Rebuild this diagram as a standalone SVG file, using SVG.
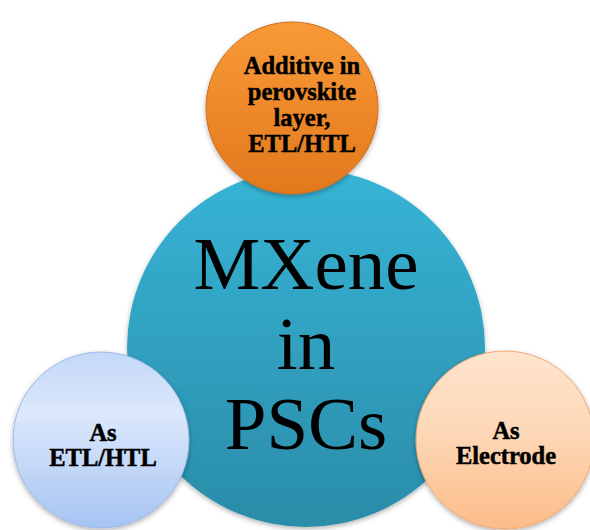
<svg xmlns="http://www.w3.org/2000/svg" width="590" height="530" viewBox="0 0 590 530">
  <defs>
    <linearGradient id="gTeal" x1="0" y1="0" x2="0" y2="1">
      <stop offset="0" stop-color="#37B4D6"/>
      <stop offset="1" stop-color="#2A8CA8"/>
    </linearGradient>
    <linearGradient id="gOrange" x1="0" y1="0" x2="0" y2="1">
      <stop offset="0" stop-color="#F99A37"/>
      <stop offset="1" stop-color="#E2781D"/>
    </linearGradient>
    <linearGradient id="gBlue" x1="0" y1="0" x2="0" y2="1">
      <stop offset="0" stop-color="#C3D8F8"/>
      <stop offset="0.35" stop-color="#DCE8FC"/>
      <stop offset="1" stop-color="#A6C4F2"/>
    </linearGradient>
    <linearGradient id="gPeach" x1="0" y1="0" x2="0" y2="1">
      <stop offset="0" stop-color="#FFE4CD"/>
      <stop offset="0.45" stop-color="#FDD8B7"/>
      <stop offset="1" stop-color="#FCBC88"/>
    </linearGradient>
    <filter id="shadow" x="-10%" y="-10%" width="120%" height="125%">
      <feDropShadow dx="0" dy="2" stdDeviation="2.5" flood-color="#000" flood-opacity="0.3"/>
    </filter>
  </defs>
  <style>
    .label { font-family: "Liberation Serif", "Times New Roman", serif; font-weight: bold; font-size: 24.5px; fill: #000; stroke: #000; stroke-width: 0.5px; text-anchor: middle; }
    .title { font-family: "Liberation Serif", "Times New Roman", serif; font-size: 75px; fill: #000; text-anchor: middle; }
    .node circle { filter: url(#shadow); }
  </style>
  <rect width="590" height="530" fill="#FFFFFF"/>

  <g id="center" class="node">
    <circle cx="306" cy="348" r="179" fill="url(#gTeal)"/>
    <text class="title" x="306" y="289">MXene</text>
    <text class="title" x="306" y="369">in</text>
    <text class="title" x="306" y="449">PSCs</text>
  </g>

  <g id="additive" class="node">
    <circle cx="292" cy="108" r="86" fill="url(#gOrange)" stroke="#D06C1A" stroke-width="1"/>
    <text class="label" x="302" y="74">Additive in</text>
    <text class="label" x="302" y="100">perovskite</text>
    <text class="label" x="302" y="126">layer,</text>
    <text class="label" x="302" y="152">ETL/HTL</text>
  </g>

  <g id="etl-htl" class="node">
    <circle cx="101" cy="440" r="88" fill="url(#gBlue)" stroke="#9CB8E4" stroke-width="1"/>
    <text class="label" x="103" y="441">As</text>
    <text class="label" x="103" y="466">ETL/HTL</text>
  </g>

  <g id="electrode" class="node">
    <circle cx="505" cy="440" r="89" fill="url(#gPeach)" stroke="#EFA872" stroke-width="1"/>
    <text class="label" x="506" y="439">As</text>
    <text class="label" x="506" y="464">Electrode</text>
  </g>
</svg>
